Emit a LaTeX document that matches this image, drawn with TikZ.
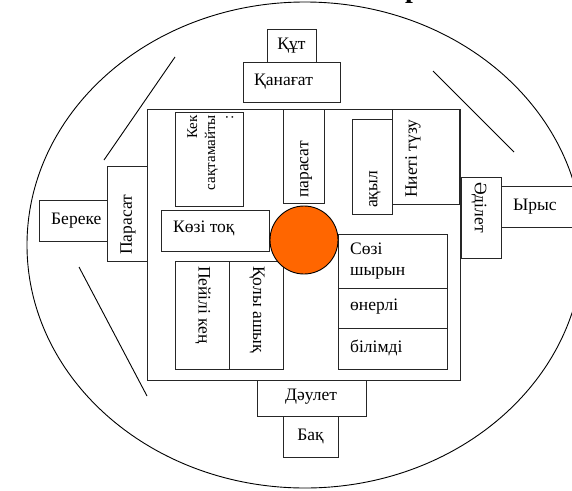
\documentclass[tikz,border=0pt]{standalone}
\usepackage{fontspec}
\setmainfont{Liberation Serif}
\usetikzlibrary{fit}
\definecolor{discorange}{RGB}{255,102,0}
\begin{document}
\begin{tikzpicture}[x=1pt,y=-1pt,
  outline/.style={draw=black, line width=0.9pt},
  box/.style={draw=black!85, line width=0.9pt, inner sep=0pt, fill=white},
  lbl/.style={font=\fontsize{17.5}{21}\selectfont, inner sep=0pt},
  small/.style={font=\fontsize{15}{18}\selectfont, inner sep=0pt},
  core/.style={draw=black, line width=0.9pt, fill=discorange, inner sep=0pt, circle}
]
\useasboundingbox (0,0) rectangle (572,490);

% heading letter, cut by the page edge
\node[font=\fontsize{28}{30}\selectfont\bfseries, anchor=base, inner sep=0pt] (head) at (413,-3) {р};

% outer ellipse and the three strokes inside it
\draw[outline] (305,245) ellipse [x radius=278, y radius=243];
\coordinate (s1a) at (175,57);  \coordinate (s1b) at (104,160);
\coordinate (s2a) at (79,267);  \coordinate (s2b) at (147,396);
\coordinate (s3a) at (433,71);  \coordinate (s3b) at (514,152);
\draw[outline] (s1a) -- (s1b);
\draw[outline] (s2a) -- (s2b);
\draw[outline] (s3a) -- (s3b);

% frame
\node[box, fit={(147,109) (460,380)}] (frame) {};

% boxes outside the frame
\node[box, fit={(267,29) (316,62)}] (kut) {};
\node[lbl] (tkut) at (kut.center) {Құт};
\node[box, fit={(243,62) (340,102)}] (kanagat) {};
\node[lbl, anchor=west] (tkanagat) at (254,82) {Қанағат};

\node[box, fit={(107,166) (147,261)}] (parasatL) {};
\node[lbl, rotate=90, anchor=west] (tparasatL) at (128,255) {Парасат};
\node[box, fit={(39,200) (107,241)}] (bereke) {};
\node[lbl, anchor=west] (tbereke) at (51,221) {Береке};

\node[box, fit={(461,177) (501,258)}] (adilet) {};
\node[lbl, rotate=-90, anchor=west] (tadilet) at (479,182) {Әділет};
\node[box, fit={(501,186) (600,227)}] (yrys) {};
\node[lbl, anchor=west] (tyrys) at (513,207) {Ырыс};

\node[box, fit={(257,380) (366,416)}] (daulet) {};
\node[lbl] (tdaulet) at (311,397) {Дәулет};
\node[box, fit={(283,416) (338,457)}] (bak) {};
\node[lbl] (tbak) at (bak.center) {Бақ};

% boxes inside the frame
\node[box, fit={(175,112) (243,206)}] (kek) {};
\node[small, rotate=90, align=right, anchor=north east] (tkek) at (187,115)
  {Кек\\сақтамайты\\:};
\node[box, fit={(283,109) (324,203)}] (parasat) {};
\node[lbl, rotate=90, anchor=west] (tparasat) at (306,198) {парасат};
\node[box, fit={(352,119) (392,214)}] (akyl) {};
\node[lbl, rotate=90, anchor=west] (takyl) at (375,208) {ақыл};
\node[box, fit={(392,109) (459,204)}] (niet) {};
\node[lbl, rotate=90, anchor=west] (tniet) at (413,198) {Ниеті түзу};

\node[box, fit={(161,210) (269,251)}] (kozi) {};
\node[lbl, anchor=west] (tkozi) at (173,228) {Көзі тоқ};

\node[box, fit={(175,261) (229,369)}] (peyili) {};
\node[lbl, rotate=-90, anchor=west] (tpeyili) at (203,266) {Пейілі кең};
\node[box, fit={(229,261) (283,369)}] (koly) {};
\node[lbl, rotate=-90, anchor=west] (tkoly) at (257,266) {Қолы ашық};

\node[box, fit={(338,234) (447,288)}] (sozi) {};
\node[lbl, align=left, anchor=west] (tsozi) at (350,261) {Сөзі\\шырын};
\node[box, fit={(338,288) (447,328)}] (onerli) {};
\node[lbl, anchor=west] (tonerli) at (350,307) {өнерлі};
\node[box, fit={(338,328) (447,369)}] (bilimdi) {};
\node[lbl, anchor=west] (tbilimdi) at (350,348) {білімді};

% centre disc
\node[core, minimum size=68pt] (sun) at (304,240) {};
\end{tikzpicture}
\end{document}
